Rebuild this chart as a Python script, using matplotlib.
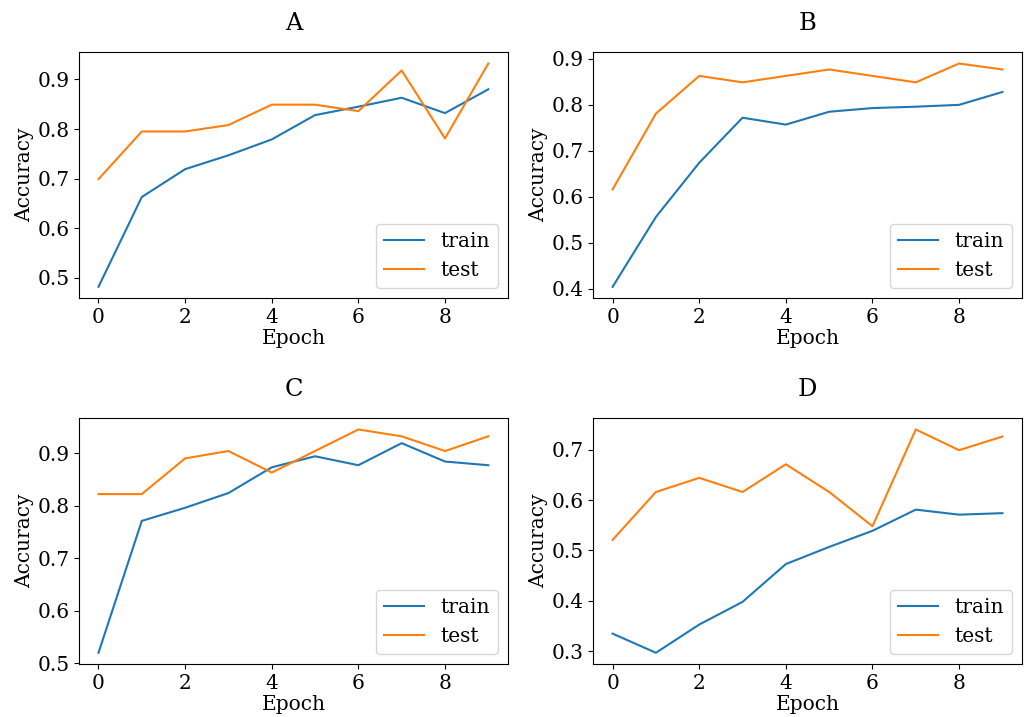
import matplotlib
matplotlib.use("Agg")
import matplotlib.pyplot as plt

plt.rcParams['font.family'] = 'DejaVu Serif'
plt.rcParams['font.size'] = 14.5

epochs = list(range(10))

# panel A
train_a = [0.482, 0.663, 0.719, 0.747, 0.779, 0.828, 0.845, 0.863, 0.832, 0.880]
test_a = [0.699, 0.795, 0.795, 0.808, 0.849, 0.849, 0.836, 0.918, 0.781, 0.932]

# panel B
train_b = [0.404, 0.556, 0.674, 0.772, 0.757, 0.785, 0.793, 0.796, 0.800, 0.828]
test_b = [0.616, 0.781, 0.863, 0.849, 0.863, 0.877, 0.863, 0.849, 0.890, 0.877]

# panel C
train_c = [0.520, 0.771, 0.796, 0.824, 0.873, 0.894, 0.877, 0.919, 0.884, 0.877]
test_c = [0.822, 0.822, 0.890, 0.904, 0.863, 0.904, 0.945, 0.932, 0.904, 0.932]

# panel D
train_d = [0.335, 0.297, 0.353, 0.398, 0.473, 0.507, 0.539, 0.581, 0.571, 0.574]
test_d = [0.521, 0.616, 0.644, 0.616, 0.671, 0.616, 0.548, 0.740, 0.699, 0.726]

titles = ['A', 'B', 'C', 'D']
trains = [train_a, train_b, train_c, train_d]
tests = [test_a, test_b, test_c, test_d]


def main():
    fig, axes = plt.subplots(2, 2, figsize=(10.26, 7.17), dpi=100)
    fig.subplots_adjust(left=0.077, right=0.996, top=0.927, bottom=0.074,
                        wspace=0.199, hspace=0.49)

    for ax, title, train, test in zip(axes.flat, titles, trains, tests):
        ax.plot(epochs, train, label='train')
        ax.plot(epochs, test, label='test')
        ax.set_title(title, pad=16)
        ax.set_xlabel('Epoch', labelpad=2)
        ax.set_ylabel('Accuracy', labelpad=2)
        ax.set_xticks([0, 2, 4, 6, 8])
        ax.legend(loc='lower right')

    plt.savefig('out.png')
    plt.close()


if __name__ == "__main__":
    main()
